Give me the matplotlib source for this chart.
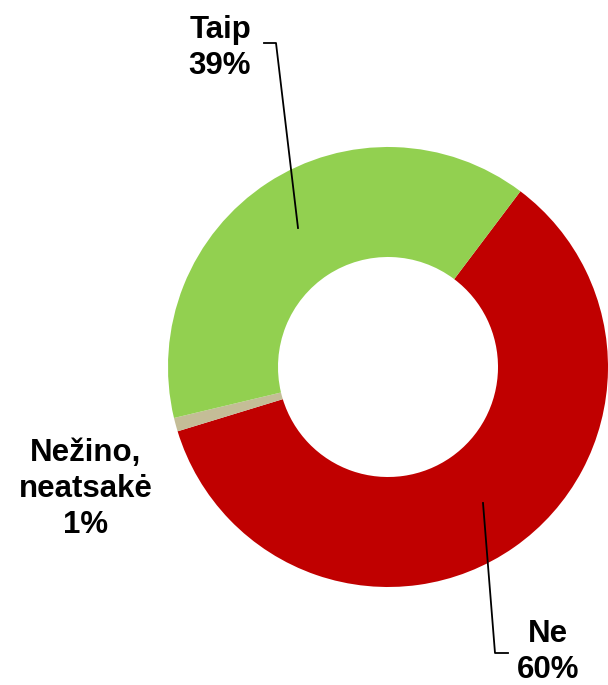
import matplotlib.pyplot as plt

labels = ['Ne', 'Nežino,\nneatsakė', 'Taip']
values = [60, 1, 39]
colors = ['#C00000', '#C4BD97', '#92D050']

plt.rcParams['font.family'] = ['Liberation Sans', 'DejaVu Sans']

fig = plt.figure(figsize=(6.08, 6.85), dpi=100)
ax = fig.add_axes([0, 0, 1, 1])

# work in pixel-like coordinates, y up
H = 685
cx, cy, r = 388, H - 367, 220
ax.pie(values, colors=colors, startangle=53, counterclock=False,
       center=(cx, cy), radius=r, frame=True,
       wedgeprops={'width': 110, 'linewidth': 0})
ax.set_xlim(0, 608)
ax.set_ylim(0, H)
ax.set_aspect('equal')
ax.axis('off')

txt = dict(fontsize=22.5, fontweight='bold', ha='center', va='center', linespacing=1.25)
ax.text(220, H - 48, f'{labels[2]}\n{values[2]}%', **txt)
ax.text(86, H - 489, f'{labels[1]}\n{values[1]}%', **txt)
ax.text(548, H - 652, f'{labels[0]}\n{values[0]}%', **txt)

# leader lines
ax.plot([264, 276, 298], [H - 43, H - 43, H - 228], color='black', lw=1.3)
ax.plot([483, 495, 508], [H - 503, H - 653, H - 653], color='black', lw=1.3)

fig.savefig('out.png', dpi=100)
